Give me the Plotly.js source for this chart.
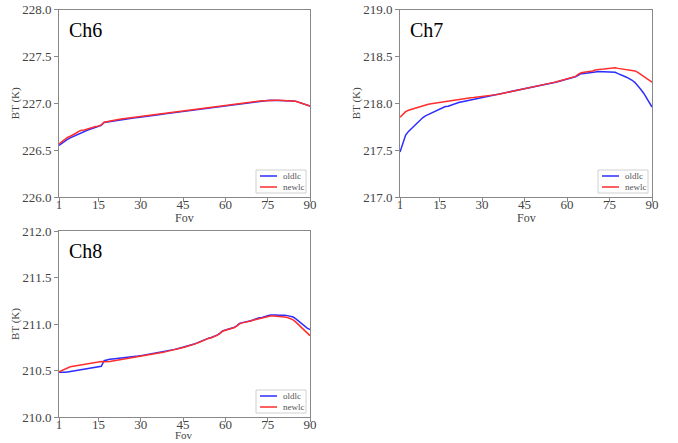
<!DOCTYPE html>
<html>
<head>
<meta charset="utf-8">
<script src="https://cdn.plot.ly/plotly-3.0.1.min.js"></script>
<style>html,body{margin:0;padding:0;background:#fff;}#chart{width:678px;height:443px;}</style>
</head>
<body>
<div id="chart"></div>
<script>
// Field of view index (1..90)
const fov = Array.from({length: 90}, (_, i) => i + 1);
const xTicks = [1, 15, 30, 45, 60, 75, 90];
const seriesNames = ['oldlc', 'newlc'];
const channelNames = ['Ch6', 'Ch7', 'Ch8'];

// Ch6 brightness temperature (K)
const ch6_old = [
226.550,226.575,226.595,226.615,226.630,226.645,226.660,226.675,226.690,226.700,
226.712,226.722,226.733,226.742,226.748,226.765,226.795,226.800,226.806,226.812,
226.816,226.821,226.826,226.830,226.834,226.838,226.841,226.845,226.849,226.852,
226.856,226.860,226.864,226.868,226.872,226.876,226.880,226.884,226.888,226.892,
226.896,226.900,226.904,226.908,226.912,226.916,226.920,226.925,226.929,226.934,
226.938,226.942,226.946,226.950,226.953,226.957,226.962,226.968,226.973,226.976,
226.979,226.982,226.987,226.992,226.997,227.000,227.003,227.006,227.010,227.014,
227.017,227.020,227.023,227.026,227.030,227.033,227.033,227.032,227.031,227.030,
227.029,227.028,227.027,227.025,227.020,227.010,227.000,226.990,226.980,226.970];
const ch6_new = [
226.565,226.590,226.615,226.635,226.648,226.662,226.680,226.700,226.712,226.715,
226.725,226.738,226.748,226.752,226.756,226.770,226.798,226.805,226.811,226.817,
226.821,226.826,226.831,226.835,226.839,226.843,226.846,226.850,226.854,226.857,
226.860,226.864,226.868,226.872,226.876,226.880,226.884,226.888,226.892,226.896,
226.900,226.904,226.908,226.912,226.916,226.920,226.924,226.929,226.933,226.938,
226.942,226.946,226.950,226.954,226.957,226.961,226.966,226.972,226.977,226.980,
226.983,226.986,226.991,226.996,227.001,227.005,227.008,227.011,227.015,227.019,
227.022,227.024,227.026,227.028,227.031,227.034,227.034,227.033,227.032,227.031,
227.030,227.029,227.028,227.026,227.021,227.011,227.001,226.991,226.981,226.971];

// Ch7 brightness temperature (K)
const ch7_old = [
217.480,217.580,217.660,217.700,217.730,217.760,217.790,217.820,217.845,217.865,
217.880,217.895,217.910,217.925,217.940,217.955,217.965,217.968,217.980,217.990,
218.000,218.010,218.017,218.023,218.030,218.036,218.042,218.048,218.054,218.060,
218.066,218.072,218.078,218.084,218.090,218.096,218.102,218.108,218.114,218.120,
218.126,218.132,218.138,218.145,218.152,218.158,218.164,218.170,218.176,218.183,
218.190,218.197,218.204,218.211,218.218,218.225,218.233,218.242,218.255,218.262,
218.268,218.274,218.282,218.300,218.316,218.318,218.320,218.322,218.328,218.334,
218.338,218.338,218.336,218.334,218.334,218.336,218.330,218.316,218.300,218.290,
218.278,218.262,218.245,218.220,218.190,218.150,218.110,218.060,218.005,217.960];
const ch7_new = [
217.850,217.880,217.910,217.925,217.935,217.945,217.955,217.965,217.975,217.985,
217.990,217.995,218.000,218.005,218.010,218.015,218.020,218.025,218.030,218.035,
218.039,218.043,218.047,218.051,218.055,218.058,218.061,218.064,218.068,218.072,
218.076,218.080,218.084,218.088,218.092,218.097,218.103,218.109,218.115,218.121,
218.127,218.133,218.139,218.147,218.154,218.160,218.166,218.172,218.178,218.185,
218.192,218.199,218.206,218.213,218.220,218.227,218.235,218.245,218.258,218.265,
218.271,218.277,218.286,218.310,218.325,218.330,218.333,218.338,218.345,218.355,
218.362,218.364,218.366,218.370,218.376,218.380,218.378,218.372,218.368,218.368,
218.364,218.358,218.352,218.345,218.330,218.310,218.290,218.265,218.242,218.225];

// Ch8 brightness temperature (K)
const ch8_old = [
210.480,210.478,210.480,210.485,210.490,210.495,210.500,210.505,210.510,210.513,
210.516,210.520,210.525,210.530,210.535,210.545,210.605,210.615,210.620,210.623,
210.626,210.628,210.630,210.634,210.638,210.642,210.646,210.650,210.655,210.660,
210.665,210.670,210.675,210.680,210.686,210.690,210.695,210.700,210.706,210.712,
210.720,210.727,210.735,210.742,210.750,210.758,210.766,210.775,210.785,210.797,
210.810,210.825,210.840,210.848,210.855,210.866,210.880,210.900,210.925,210.935,
210.942,210.950,210.962,210.980,211.005,211.015,211.020,211.028,211.036,211.045,
211.058,211.068,211.070,211.075,211.088,211.097,211.100,211.098,211.094,211.096,
211.094,211.090,211.085,211.075,211.055,211.030,211.000,210.975,210.955,210.940];
const ch8_new = [
210.485,210.500,210.515,210.530,210.540,210.545,210.550,210.557,210.563,210.568,
210.572,210.577,210.582,210.588,210.594,210.598,210.594,210.592,210.597,210.602,
210.607,210.612,210.616,210.620,210.625,210.630,210.636,210.642,210.648,210.654,
210.660,210.666,210.671,210.676,210.682,210.687,210.692,210.697,210.703,210.709,
210.717,210.724,210.732,210.739,210.747,210.755,210.763,210.772,210.782,210.794,
210.807,210.822,210.837,210.845,210.852,210.863,210.877,210.897,210.922,210.932,
210.939,210.947,210.959,210.977,211.002,211.012,211.017,211.025,211.033,211.042,
211.050,211.060,211.063,211.068,211.078,211.085,211.086,211.085,211.082,211.080,
211.076,211.070,211.060,211.045,211.020,210.990,210.955,210.925,210.898,210.875];

const yRanges = [[226, 228], [217, 219], [210, 212]];
const allData = [[ch6_old, ch6_new], [ch7_old, ch7_new], [ch8_old, ch8_new]];

const colors = ['rgb(45,45,255)', 'rgb(255,45,45)'];
const serif = '"Liberation Serif", "DejaVu Serif", serif';
const W = 678, H = 443;
// plot boxes in pixels [left, right, top, bottom]
const boxes = [[59, 310, 9.5, 197], [400, 652, 9.5, 197], [59, 310, 231, 417]];
const px = v => v / W, py = v => 1 - v / H;

const traces = [];
const layout = {
  width: W, height: H,
  margin: {l: 0, r: 0, t: 0, b: 0},
  paper_bgcolor: '#fff', plot_bgcolor: '#fff',
  showlegend: false,
  annotations: [], shapes: [],
  font: {family: serif, color: '#444'}
};

allData.forEach((pair, k) => {
  const n = k + 1;
  const xa = 'xaxis' + (n === 1 ? '' : n), ya = 'yaxis' + (n === 1 ? '' : n);
  const xr = 'x' + (n === 1 ? '' : n), yr = 'y' + (n === 1 ? '' : n);
  const b = boxes[k];
  pair.forEach((vals, s) => {
    traces.push({
      x: fov, y: vals, type: 'scatter', mode: 'lines', name: seriesNames[s],
      xaxis: xr, yaxis: yr,
      line: {color: colors[s], width: 1.5}
    });
  });
  const axisCommon = {
    showline: true, mirror: true, linecolor: '#888', linewidth: 1,
    ticks: 'outside', ticklen: 4, tickcolor: '#888',
    showgrid: false, zeroline: false,
    tickfont: {family: serif, size: 13, color: '#444'}
  };
  layout[xa] = Object.assign({}, axisCommon, {
    domain: [px(b[0]), px(b[1])], range: [1, 90],
    tickvals: xTicks, ticktext: xTicks.map(String),
    ticklabelstandoff: -9,
    anchor: yr
  });
  layout[ya] = Object.assign({}, axisCommon, {
    domain: [py(b[3]), py(b[2])], range: yRanges[k],
    dtick: 0.5, tick0: yRanges[k][0], tickformat: '.1f',
    anchor: xr,
    title: {text: 'BT (K)', font: {family: serif, size: 11, color: '#444'}, standoff: 0}
  });
  // x axis title
  const bottomRow = b[3] + 30 > H;
  layout.annotations.push({
    text: 'Fov', xref: 'paper', yref: 'paper',
    x: px((b[0] + b[1]) / 2),
    y: bottomRow ? py(H - 0.5) : py(b[3] + 21),
    xanchor: 'center', yanchor: bottomRow ? 'bottom' : 'middle',
    showarrow: false, font: {family: serif, size: bottomRow ? 11 : 12, color: '#444'}
  });
  // channel label
  layout.annotations.push({
    text: channelNames[k], xref: 'paper', yref: 'paper',
    x: px(b[0] + 8), y: py(b[2] + 7), xanchor: 'left', yanchor: 'top',
    showarrow: false, font: {family: serif, size: 20, color: '#000'}
  });
  // legend box
  const L = b[1] - 54, R = b[1] - 4, T = b[3] - 27, B = b[3] - 4;
  layout.shapes.push({
    type: 'rect', xref: 'paper', yref: 'paper',
    x0: px(L), x1: px(R), y0: py(B), y1: py(T),
    line: {color: '#d0d0d0', width: 1}, fillcolor: 'rgba(255,255,255,0.9)'
  });
  seriesNames.forEach((nm, s) => {
    const yy = T + 6 + s * 11;
    layout.shapes.push({
      type: 'line', xref: 'paper', yref: 'paper',
      x0: px(L + 4), x1: px(L + 21), y0: py(yy), y1: py(yy),
      line: {color: colors[s], width: 1.5}
    });
    layout.annotations.push({
      text: nm, xref: 'paper', yref: 'paper',
      x: px(L + 25), y: py(yy), xanchor: 'left', yanchor: 'middle',
      showarrow: false, font: {family: serif, size: 9, color: '#555'}
    });
  });
});

Plotly.newPlot('chart', traces, layout, {displayModeBar: false, staticPlot: true});
</script>
</body>
</html>
